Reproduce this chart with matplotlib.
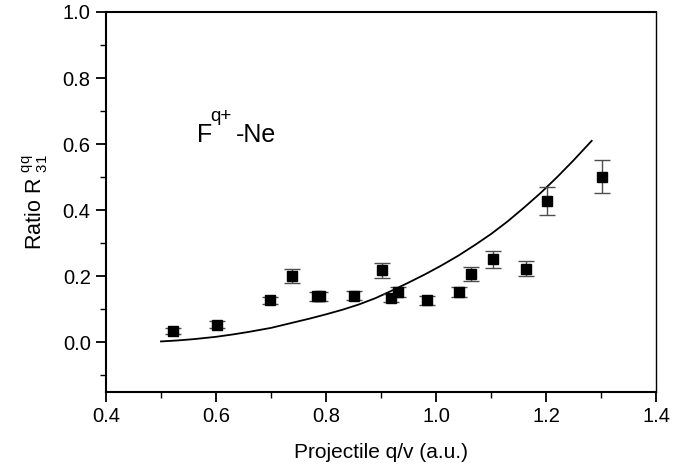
import matplotlib
matplotlib.use("Agg")
import matplotlib.pyplot as plt
from matplotlib.ticker import MultipleLocator

plt.rcParams['font.family'] = ['Liberation Sans', 'DejaVu Sans']
plt.rcParams['mathtext.fontset'] = 'custom'
plt.rcParams['mathtext.rm'] = 'Liberation Sans'
plt.rcParams['mathtext.it'] = 'Liberation Sans'

# measured ratios
qv = [0.521, 0.601, 0.699, 0.738, 0.783, 0.790, 0.851, 0.901, 0.919, 0.931,
      0.984, 1.042, 1.063, 1.104, 1.164, 1.202, 1.302]
ratio = [0.034, 0.054, 0.127, 0.200, 0.139, 0.139, 0.142, 0.218, 0.135, 0.152,
         0.127, 0.152, 0.208, 0.251, 0.223, 0.428, 0.501]
err = [0.010, 0.010, 0.011, 0.021, 0.015, 0.015, 0.014, 0.022, 0.012, 0.015,
       0.014, 0.016, 0.021, 0.025, 0.023, 0.043, 0.050]

# theory curve
curve_x = [0.50, 0.53, 0.56, 0.60, 0.63, 0.66, 0.70, 0.74, 0.77, 0.80,
           0.83, 0.86, 0.89, 0.92, 0.95, 0.98, 1.01, 1.04, 1.07, 1.10,
           1.13, 1.16, 1.19, 1.22, 1.25, 1.283]
curve_y = [0.003, 0.006, 0.010, 0.017, 0.024, 0.032, 0.044, 0.060, 0.072, 0.085,
           0.099, 0.115, 0.134, 0.157, 0.181, 0.206, 0.233, 0.262, 0.294, 0.328,
           0.366, 0.408, 0.452, 0.500, 0.551, 0.610]

fig = plt.figure(figsize=(6.85, 4.68), dpi=100)
ax = fig.add_axes([0.1547, 0.1624, 0.803, 0.812])

ax.plot(curve_x, curve_y, color='black', lw=1.3)
ax.errorbar(qv, ratio, yerr=err, fmt='s', color='black', ms=7.5,
            ecolor='0.3', elinewidth=1, capsize=5.5, capthick=1)

# F^{q+}-Ne label, pieces placed by hand
lab_x, lab_y = 0.566, 0.606
ax.annotate('F', (lab_x, lab_y), fontsize=18)
ax.annotate('q+', (lab_x, lab_y), xytext=(13, 21), textcoords='offset pixels', fontsize=13.5)
ax.annotate('-Ne', (lab_x, lab_y), xytext=(39, 0), textcoords='offset pixels', fontsize=18)

ax.set_xlim(0.4, 1.4)
ax.set_ylim(-0.15, 1.0)
ax.xaxis.set_major_locator(MultipleLocator(0.2))
ax.xaxis.set_minor_locator(MultipleLocator(0.1))
ax.yaxis.set_major_locator(MultipleLocator(0.2))
ax.yaxis.set_minor_locator(MultipleLocator(0.1))
ax.set_yticks([0.0, 0.2, 0.4, 0.6, 0.8, 1.0])
ax.tick_params(which='major', direction='out', length=7, width=1.3, labelsize=14.5, pad=4)
ax.tick_params(which='minor', direction='out', length=4, width=1)
for s in ['left', 'bottom', 'top']:
    ax.spines[s].set_linewidth(1.5)
ax.spines['right'].set_linewidth(1.0)

ax.set_xlabel('Projectile q/v (a.u.)', fontsize=15, labelpad=12)
ax.set_ylabel(r'Ratio R $^{\mathregular{qq}}_{\mathregular{31}}$', fontsize=15.5, labelpad=9)

fig.savefig('out.png', dpi=100)
